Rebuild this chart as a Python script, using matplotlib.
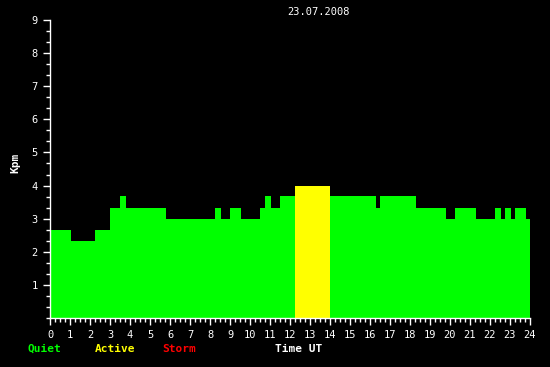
import matplotlib
matplotlib.use("Agg")
import matplotlib.pyplot as plt
import numpy as np

# Data: interval edges (hours UT) and Kp values
edges = [0, 1.05, 2.25, 3.0, 3.5, 3.8, 5.8, 8.25, 8.55, 9.0, 9.55, 10.5, 10.75,
         11.05, 11.5, 12.25, 14.0, 16.3, 16.5, 18.3, 19.8, 20.25, 21.3, 22.25,
         22.55, 22.75, 23.05, 23.25, 23.8, 24.0]
kp = [2.67, 2.33, 2.67, 3.33, 3.67, 3.33, 3.0, 3.33, 3.0, 3.33, 3.0, 3.33, 3.67,
      3.33, 3.67, 4.0, 3.67, 3.33, 3.67, 3.33, 3.0, 3.33, 3.0, 3.33, 3.0, 3.33,
      3.0, 3.33, 3.0]
x_ticks = list(range(0, 25))
y_ticks = list(range(1, 10))
title = "23.07.2008"

def kp_color(v):
    if v >= 5:
        return "#ff0000"
    if v >= 4:
        return "#ffff00"
    return "#00ff00"

plt.rcParams['font.family'] = ['DejaVu Sans Mono']
fig = plt.figure(figsize=(5.5, 3.67), dpi=100, facecolor="black")
ax = fig.add_axes([50/550, 1-318/367, 480/550, 298/367])
ax.set_facecolor("black")

left = np.array(edges[:-1])
widths = np.diff(edges)
ax.bar(left, kp, width=widths, align="edge", color=[kp_color(v) for v in kp],
       linewidth=0)

ax.set_xlim(0, 24)
ax.set_ylim(0, 9)
ax.set_xticks(x_ticks)
ax.set_xticks(np.arange(0, 24.01, 0.25), minor=True)
ax.set_yticks(y_ticks)
ax.set_yticks(np.arange(0, 9.01, 1/3), minor=True)

for s in ["top", "right"]:
    ax.spines[s].set_visible(False)
for s in ["left", "bottom"]:
    ax.spines[s].set_color("white")
    ax.spines[s].set_linewidth(1)

ax.tick_params(axis="both", which="major", colors="white", length=5, width=1,
               labelsize=7.5, direction="out")
ax.tick_params(axis="both", which="minor", colors="white", length=3, width=1,
               direction="out")
ax.tick_params(axis="x", pad=4)
ax.tick_params(axis="y", pad=4)

fig.text(319/550, 1-12/367, title, color="white", fontsize=7.5, ha="center", va="center")
fig.text(15/550, 1-163/367, "Kpm", color="white", fontsize=8, fontweight="bold",
         rotation=90, ha="center", va="center")
ly = 1-349/367
fig.text(28/550, ly, "Quiet", color="#00ff00", fontsize=8, fontweight="bold", va="center")
fig.text(95/550, ly, "Active", color="#ffff00", fontsize=8, fontweight="bold", va="center")
fig.text(162/550, ly, "Storm", color="#ff0000", fontsize=8, fontweight="bold", va="center")
fig.text(275/550, ly, "Time UT", color="white", fontsize=8, fontweight="bold", va="center")

fig.savefig("out.png", dpi=100, facecolor="black")
